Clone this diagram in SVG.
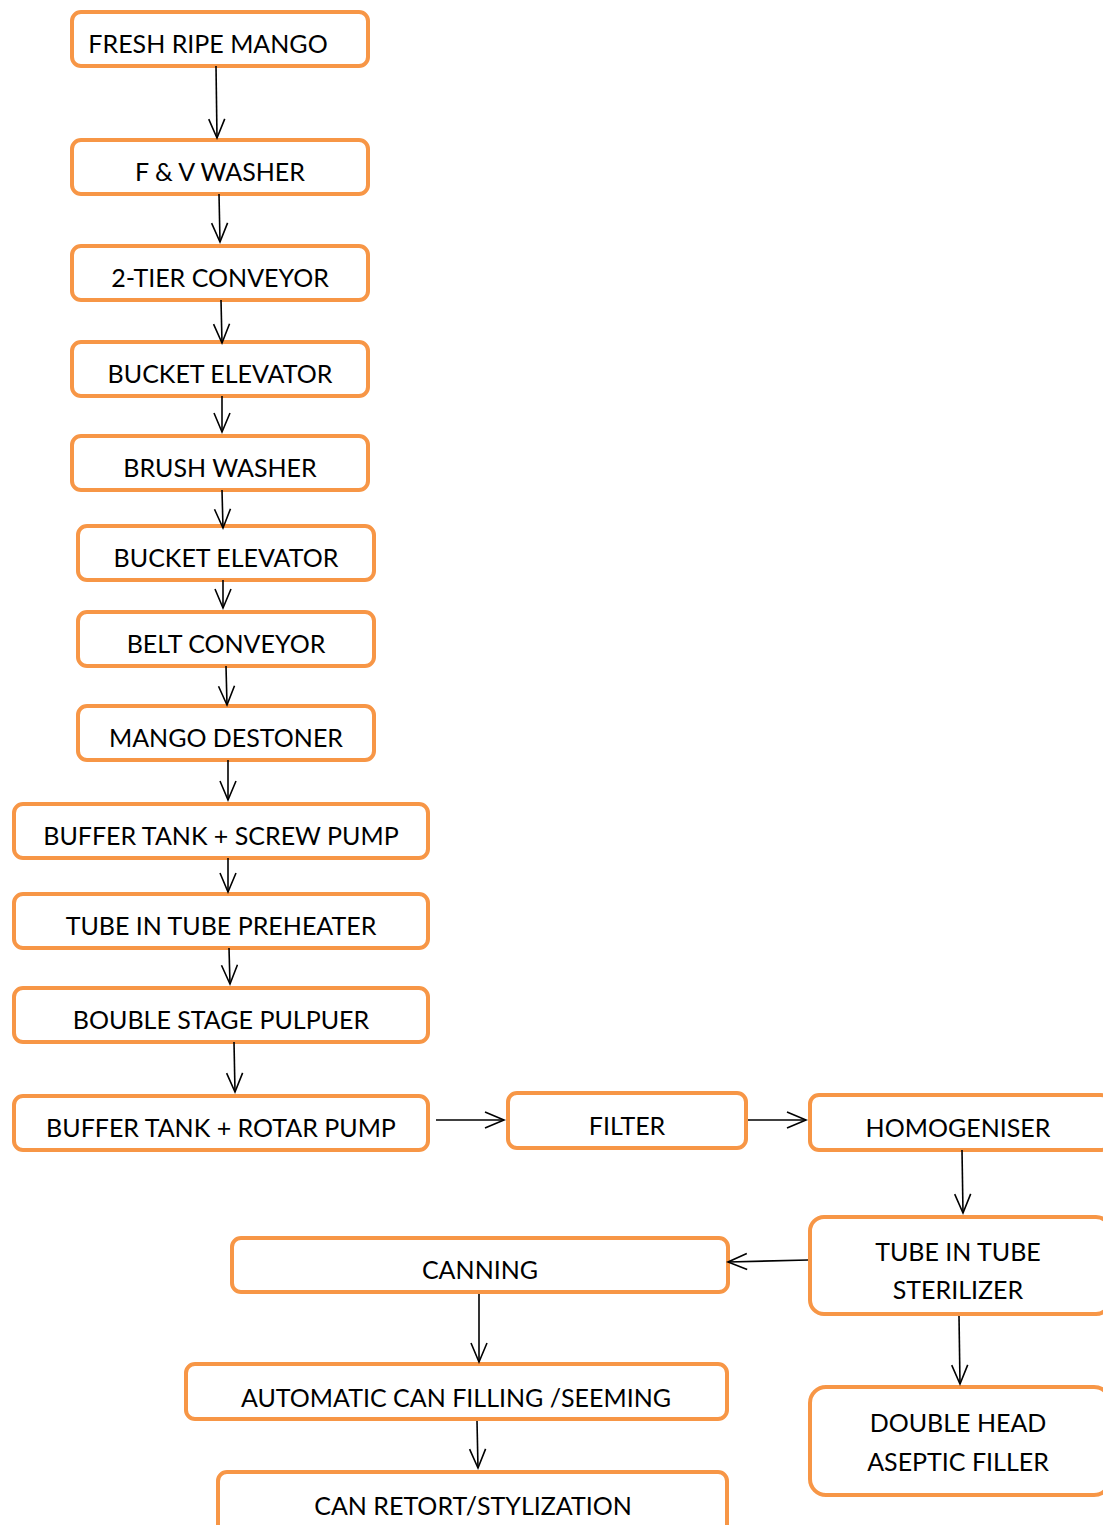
<svg xmlns="http://www.w3.org/2000/svg" width="1103" height="1525" viewBox="0 0 1103 1525">
<style>
.box{fill:#fff;stroke:#F79646;stroke-width:4}
.t{font-family:Lato,"Liberation Sans",sans-serif;font-size:25px;fill:#000;text-anchor:middle}
.c{stroke:#000;stroke-width:1.6;fill:none;marker-end:url(#ah)}
</style>
<defs>
<marker id="ah" markerUnits="userSpaceOnUse" markerWidth="24" markerHeight="20" refX="20" refY="9" orient="auto">
<path d="M1,1 L20,9 L1,17" fill="none" stroke="#000" stroke-width="1.6"/>
</marker>
</defs>
<rect width="1103" height="1525" fill="#fff"/>
<g id="n1"><rect class="box" x="72" y="12" width="296" height="54" rx="9"/><text class="t" x="208" y="53">FRESH RIPE MANGO</text></g>
<g id="n2"><rect class="box" x="72" y="140" width="296" height="54" rx="9"/><text class="t" x="220" y="181">F &amp; V WASHER</text></g>
<g id="n3"><rect class="box" x="72" y="246" width="296" height="54" rx="9"/><text class="t" x="220" y="287">2-TIER CONVEYOR</text></g>
<g id="n4"><rect class="box" x="72" y="342" width="296" height="54" rx="9"/><text class="t" x="220" y="383">BUCKET ELEVATOR</text></g>
<g id="n5"><rect class="box" x="72" y="436" width="296" height="54" rx="9"/><text class="t" x="220" y="477">BRUSH WASHER</text></g>
<g id="n6"><rect class="box" x="78" y="526" width="296" height="54" rx="9"/><text class="t" x="226" y="567">BUCKET ELEVATOR</text></g>
<g id="n7"><rect class="box" x="78" y="612" width="296" height="54" rx="9"/><text class="t" x="226" y="653">BELT CONVEYOR</text></g>
<g id="n8"><rect class="box" x="78" y="706" width="296" height="54" rx="9"/><text class="t" x="226" y="747">MANGO DESTONER</text></g>
<g id="n9"><rect class="box" x="14" y="804" width="414" height="54" rx="9"/><text class="t" x="221" y="845">BUFFER TANK + SCREW PUMP</text></g>
<g id="n10"><rect class="box" x="14" y="894" width="414" height="54" rx="9"/><text class="t" x="221" y="935">TUBE IN TUBE PREHEATER</text></g>
<g id="n11"><rect class="box" x="14" y="988" width="414" height="54" rx="9"/><text class="t" x="221" y="1029">BOUBLE STAGE PULPUER</text></g>
<g id="n12"><rect class="box" x="14" y="1096" width="414" height="54" rx="9"/><text class="t" x="221" y="1137">BUFFER TANK + ROTAR PUMP</text></g>
<g id="n13"><rect class="box" x="508" y="1093" width="238" height="55" rx="9"/><text class="t" x="627" y="1135">FILTER</text></g>
<g id="n14"><rect class="box" x="810" y="1095" width="300" height="55" rx="9"/><text class="t" x="958" y="1137">HOMOGENISER</text></g>
<g id="n15"><rect class="box" x="810" y="1217" width="300" height="97" rx="14"/><text class="t" x="958" y="1261">TUBE IN TUBE</text><text class="t" x="958" y="1299">STERILIZER</text></g>
<g id="n16"><rect class="box" x="232" y="1238" width="496" height="54" rx="9"/><text class="t" x="480" y="1279">CANNING</text></g>
<g id="n17"><rect class="box" x="186" y="1364" width="541" height="55" rx="9"/><text class="t" x="456" y="1407">AUTOMATIC CAN FILLING /SEEMING</text></g>
<g id="n18"><rect class="box" x="218" y="1472" width="509" height="62" rx="9"/><text class="t" x="473" y="1515">CAN RETORT/STYLIZATION</text></g>
<g id="n19"><rect class="box" x="810" y="1387" width="300" height="108" rx="16"/><text class="t" x="958" y="1432">DOUBLE HEAD</text><text class="t" x="958" y="1471">ASEPTIC FILLER</text></g>
<g id="connectors">
<line class="c" x1="216" y1="66" x2="217" y2="138"/>
<line class="c" x1="219" y1="194" x2="220" y2="242"/>
<line class="c" x1="221" y1="300" x2="222" y2="343"/>
<line class="c" x1="222" y1="396" x2="222" y2="432"/>
<line class="c" x1="222" y1="490" x2="223" y2="528"/>
<line class="c" x1="223" y1="580" x2="223" y2="608"/>
<line class="c" x1="226" y1="666" x2="227" y2="705"/>
<line class="c" x1="228" y1="760" x2="228" y2="800"/>
<line class="c" x1="228" y1="858" x2="228" y2="892"/>
<line class="c" x1="229" y1="948" x2="230" y2="984"/>
<line class="c" x1="234" y1="1042" x2="235" y2="1092"/>
<line class="c" x1="436" y1="1120" x2="504" y2="1120"/>
<line class="c" x1="748" y1="1120" x2="806" y2="1120"/>
<line class="c" x1="962" y1="1150" x2="963" y2="1213"/>
<line class="c" x1="808" y1="1260" x2="728" y2="1262"/>
<line class="c" x1="479" y1="1294" x2="479" y2="1362"/>
<line class="c" x1="959" y1="1316" x2="960" y2="1384"/>
<line class="c" x1="477" y1="1421" x2="478" y2="1468"/>
</g>
</svg>
